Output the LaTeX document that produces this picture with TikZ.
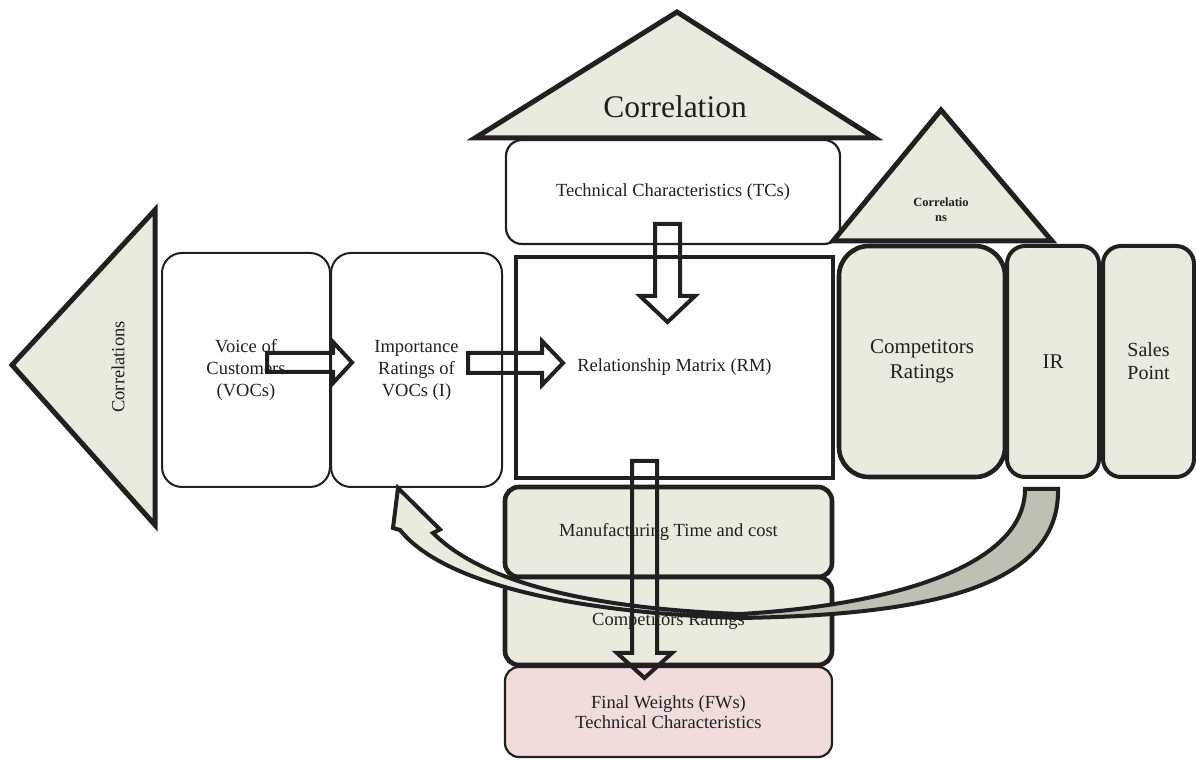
\documentclass[tikz,border=0pt]{standalone}
\usepackage{fontspec}
\setmainfont{Liberation Serif}
\usetikzlibrary{positioning, calc}

\definecolor{qline}{HTML}{231F20}
\definecolor{qbeige}{HTML}{ECE9DF}
\definecolor{qgrey}{HTML}{BFBFB4}
\definecolor{qpink}{HTML}{F2DCDB}

\tikzset{
    x=1pt, y=1pt,
    every node/.style={inner sep=0pt, outer sep=0pt, align=center, text=qline},
    txt/.style={font=\fontsize{18.5}{22}\selectfont},
    roundbox/.style={draw=qline, line width=2pt, rounded corners=20pt, txt},
    heavybox/.style={draw=qline, line width=4.6pt, rounded corners=14pt, fill=qbeige, txt},
    roof/.style={draw=qline, line width=5pt, fill=qbeige, line join=miter},
    hollow/.style={draw=qline, line width=4pt, line join=miter},
}

% from, tip, shaft half width, head half width, head length
\newcommand{\hollowarrow}[5]{%
    \path ($(#2)!#5!(#1)$) coordinate (hb);
    \draw[hollow] ($(#1)!#3!90:(#2)$) -- ($(hb)!#3!90:(#2)$) -- ($(hb)!#4!90:(#2)$)
        -- (#2) -- ($(hb)!#4!-90:(#2)$) -- ($(hb)!#3!-90:(#2)$) -- ($(#1)!#3!-90:(#2)$) -- cycle;
}

\begin{document}
\begin{tikzpicture}
    \useasboundingbox (0,0) rectangle (1196,760);

    % roofs
    \draw[roof] (12,395) -- (155,550) -- (155,235) -- cycle;
    \node[txt, rotate=90] (lcorr) at (118,393) {Correlations};
    \draw[roof] (475,622) -- (677,748) -- (875,622) -- cycle;
    \node[font=\fontsize{31.5}{36}\selectfont] (tcorr) at (675,653) {Correlation};

    % house body
    \node[roundbox, minimum width=168pt, minimum height=234pt] (voc) at (246,390) {Voice of\\Customers\\(VOCs)};
    \node[roundbox, minimum width=171pt, minimum height=234pt, right=1pt of voc] (imp) {Importance\\Ratings of\\VOCs (I)};
    \node[roundbox, rounded corners=16pt, line width=2.2pt, minimum width=334pt, minimum height=104pt] (tcs) at (673,568) {Technical Characteristics (TCs)};
    \node[draw=qline, line width=4.6pt, fill=white, txt, minimum width=317pt, minimum height=221pt] (rm) at (674.5,392.5) {Relationship Matrix (RM)};

    \node[heavybox, rounded corners=30pt, minimum width=166pt, minimum height=231pt, font=\fontsize{21}{25}\selectfont] (cr) at (922,398.5) {Competitors\\Ratings};
    \node[heavybox, rounded corners=18pt, line width=4pt, minimum width=92pt, minimum height=231pt, font=\fontsize{21}{25}\selectfont, right=2pt of cr] (ir) {IR};
    \node[heavybox, rounded corners=18pt, line width=4pt, minimum width=91pt, minimum height=231pt, font=\fontsize{20}{23}\selectfont, right=4pt of ir] (sp) {Sales\\Point};
    \draw[roof] (833,519) -- (941,650) -- (1052,519) -- cycle;
    \node[font=\fontsize{12.5}{15}\selectfont\bfseries] (rcorr) at (941,550) {Correlatio\\ns};

    \node[heavybox, minimum width=327pt, minimum height=90pt] (mtc) at (668.5,228) {Manufacturing Time and cost};
    \node[heavybox, minimum width=327pt, minimum height=88pt, below=0pt of mtc] (crb) {Competitors Ratings};
    \node[roundbox, rounded corners=14pt, line width=2.2pt, fill=qpink, minimum width=327pt, minimum height=90pt,
          font=\fontsize{18.5}{20.5}\selectfont, below=2pt of crb] (fw) {Final Weights (FWs)\\Technical Characteristics};

    % curved feedback arrow
    \coordinate (bandtip) at ($(imp.south)+(-18.5,-1)$);
    \coordinate (bandend) at ($(ir.south)+(-28,-12)$);
    \draw[roof, line width=4pt, fill=qgrey] (bandend) -- ++(33,0) .. controls +(2,-101) and (920,145) .. (740,142)
        -- (740,146) .. controls (880,154) and ($(bandend)+(0,-81)$) .. (bandend) -- cycle;
    \draw[roof, line width=4pt] (740,146) .. controls (580,152) and (480,180) .. (433,227) -- (440,230.5) -- (bandtip)
        -- (393,232) -- (400,230) .. controls (440,180) and (560,148) .. (740,142) -- cycle;

    % block arrows
    \coordinate (a1s) at ($(voc.center)+(21,7.5)$);
    \coordinate (a1t) at ($(imp.west)+(21,7.5)$);
    \hollowarrow{a1s}{a1t}{9.5pt}{20.5pt}{19pt}
    \coordinate (a2s) at ($(imp.center)+(51.5,7)$);
    \coordinate (a2t) at ($(rm.west)+(47,4.5)$);
    \hollowarrow{a2s}{a2t}{10pt}{22pt}{21pt}
    \coordinate (a3s) at ($(tcs.south)+(-5.5,20)$);
    \coordinate (a3t) at ($(rm.north)+(-7,-65)$);
    \hollowarrow{a3s}{a3t}{12.5pt}{27.5pt}{26pt}
    \coordinate (a4s) at ($(rm.south)+(-30,17)$);
    \coordinate (a4t) at ($(fw.north)+(-24,-11)$);
    \hollowarrow{a4s}{a4t}{12.5pt}{27.5pt}{25pt}
\end{tikzpicture}
\end{document}
